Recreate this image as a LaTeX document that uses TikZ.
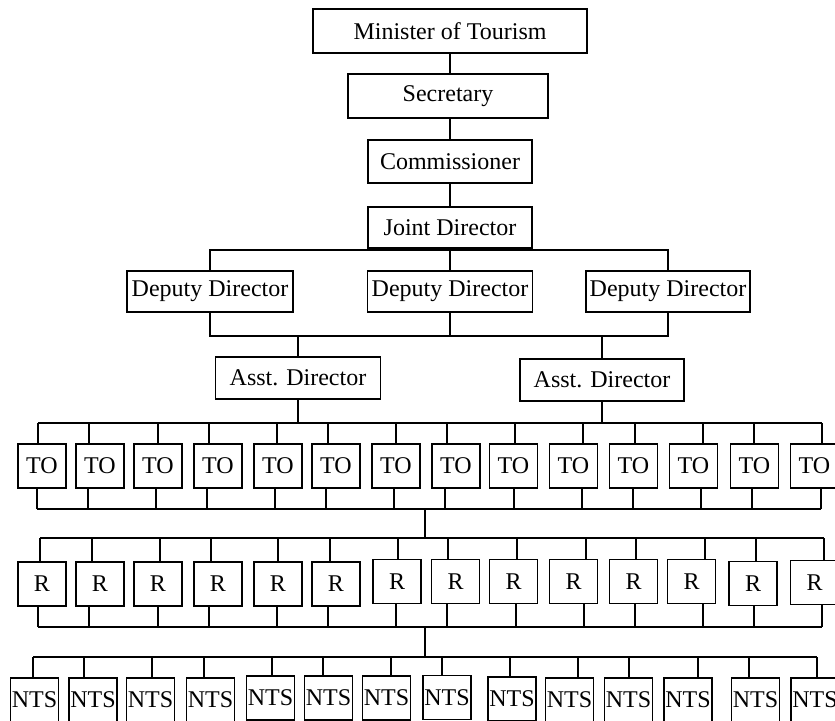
\documentclass[tikz,border=0pt]{standalone}
\usepackage{fontspec}
\setmainfont{Liberation Serif}
\usetikzlibrary{calc}

\begin{document}
\begin{tikzpicture}[x=0.5pt,y=-0.5pt,
    box/.style={draw,line width=0.6pt,inner sep=0pt,font=\fontsize{12}{14}\selectfont},
    smallbox/.style={box,minimum width=24pt,minimum height=22pt},
    conn/.style={line width=0.8pt}]
      \useasboundingbox (0,0) rectangle (835,721);
      \clip (0,0) rectangle (835,721);
      % top of the chart
      \node[box,minimum width=137pt,minimum height=22pt] (minister) at (450,31) {Minister of Tourism};
      \node[box,minimum width=100pt,minimum height=22pt] (secretary) at (448,96) {Secretary};
      \node[box,minimum width=82pt,minimum height=21.5pt] (commissioner) at (450,161.5) {Commissioner};
      \node[box,minimum width=82pt,minimum height=20.5pt] (joint) at (450,227.5) {Joint Director};
      \draw[conn] (minister.south) -- (minister.south |- secretary.north);
      \draw[conn] (commissioner.north |- secretary.south) -- (commissioner.north);
      \draw[conn] (commissioner.south) -- (joint.north);
      % deputies and assistants
      \node[box,minimum width=83pt,minimum height=20.5pt] (depL) at (210,291.5) {Deputy Director};
      \node[box,minimum width=82.5pt,minimum height=20.5pt] (depM) at (450,291.5) {Deputy Director};
      \node[box,minimum width=82pt,minimum height=20.5pt] (depR) at (668,291.5) {Deputy Director};
      \coordinate (busA) at (450,250);
      \coordinate (busB) at (450,336);
      \draw[conn] (depL.north) |- (busA) -| (depR.north);
      \draw[conn] (joint.south) -- (joint.south |- depM.north);
      \draw[conn] (depL.south) |- (busB) -| (depR.south);
      \draw[conn] (depM.south) -- (busB);
      \node[box,minimum width=82.5pt,minimum height=21pt] (asstL) at (298,378) {Asst. Director};
      \node[box,minimum width=82pt,minimum height=21pt] (asstR) at (602,380) {Asst. Director};
      \draw[conn] (asstL.north |- busB) -- (asstL.north);
      \draw[conn] (asstR.north |- busB) -- (asstR.north);
      % TO row
      \foreach \i/\c/\t/\b in {1/42/38/37, 2/100/89/88, 3/158/158/156, 4/218/209/207,
          5/278/277/275, 6/336/328/326, 7/396/396/394, 8/456/447/445, 9/513.5/515/514,
          10/573.5/583/582, 11/633.5/635/633, 12/693.5/703/701, 13/754.5/754/752, 14/814.5/822/821}{
        \node[smallbox] (to\i) at (\c,466) {TO};
        \coordinate (tot\i) at (\t,423);
        \coordinate (tob\i) at (\b,509);
        \draw[conn] (tot\i) -- (tot\i |- to\i.north);
        \draw[conn] (tob\i) -- (tob\i |- to\i.south);
      }
      \draw[conn] (tot1) -- (tot14);
      \draw[conn] (tob1) -- (tob14);
      \draw[conn] (asstL.south) -- (asstL.south |- tot1);
      \draw[conn] (asstR.south) -- (asstR.south |- tot1);
      % R row
      \foreach \i/\c/\y/\t/\b in {1/42/584/40/38, 2/100/584/92/89, 3/158/584/160/158, 4/218/584/211/209,
          5/278/584/278/277, 6/336/584/330/328, 7/397/581.5/398/396, 8/455.5/581.5/448/447,
          9/513.5/581.5/517/516, 10/573.5/581.5/586/584, 11/633.5/581.5/636/635,
          12/691.5/581.5/705/703, 13/753/583.5/756/754, 14/814.5/582.5/824/822}{
        \node[smallbox] (r\i) at (\c,\y) {R};
        \coordinate (rt\i) at (\t,538);
        \coordinate (rb\i) at (\b,627);
        \draw[conn] (rt\i) -- (rt\i |- r\i.north);
        \draw[conn] (rb\i) -- (rb\i |- r\i.south);
      }
      \draw[conn] (rt1) -- (rt14);
      \draw[conn] (rb1) -- (rb14);
      \coordinate (linkA) at (425,509);
      \draw[conn] (linkA) -- (linkA |- rt1);
      % NTS row
      \foreach \i/\c/\y/\t in {1/34.5/700/33, 2/93/700/84, 3/150.5/700/152, 4/210.5/700/204,
          5/270.5/698/272, 6/328.5/698/323, 7/386.5/698/391, 8/447/697.5/442,
          9/512/699/510, 10/569.5/700/578, 11/628.5/700/629, 12/688/700/698,
          13/755.5/700/749, 14/815/700/817}{
        \node[smallbox] (nts\i) at (\c,\y) {NTS};
        \coordinate (nt\i) at (\t,657);
        \draw[conn] (nt\i) -- (nt\i |- nts\i.north);
      }
      \draw[conn] (nt1) -- (nt14);
      \coordinate (linkB) at (425,627);
      \draw[conn] (linkB) -- (linkB |- nt1);
\end{tikzpicture}
\end{document}
